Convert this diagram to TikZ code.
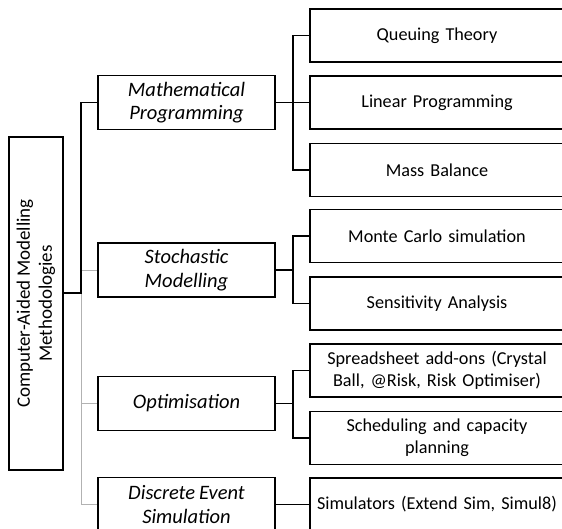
\documentclass[tikz,border=0pt]{standalone}
\usepackage{fontspec}
\setmainfont[WordSpace=0.85]{Carlito}
\begin{document}
\begin{tikzpicture}[x=1pt,y=-1pt,
  box/.style={draw,line width=1.7pt,align=center,inner sep=0pt,
    font=\fontsize{18.2}{22}\selectfont},
  leaf/.style={box,minimum width=254,minimum height=53,text width=248},
  method/.style={box,minimum width=177,minimum height=54,font=\fontsize{20.5}{23.5}\selectfont\itshape},
  conn/.style={line width=1.7pt},
  fine/.style={line width=0.7pt},
  faint/.style={line width=0.7pt,gray!60}]
  \useasboundingbox (0,0) rectangle (562,529);
  \clip (0,0) rectangle (562,529);

  % root
  \node[box,rotate=90,minimum width=333,minimum height=54,
    font=\fontsize{19}{22}\selectfont] (root) at (36,303.5)
    {Computer-Aided Modelling\\Methodologies};

  % methods
  \node[method] (mp) at (186.5,102.5) {Mathematical\\Programming};
  \node[method] (sm) at (186.5,270) {Stochastic\\Modelling};
  \node[method] (op) at (186.5,403.5) {Optimisation};
  \node[method] (de) at (186.5,504.5) {Discrete Event\\Simulation};

  % tools
  \node[leaf] (qt) at (437,35.5) {Queuing Theory};
  \node[leaf] (lp) at (437,102.5) {Linear Programming};
  \node[leaf] (mb) at (437,170) {Mass Balance};
  \node[leaf] (mc) at (437,236) {Monte Carlo simulation};
  \node[leaf] (sa) at (437,303.5) {Sensitivity Analysis};
  \node[leaf] (ss) at (437,370.5) {Spreadsheet add-ons (Crystal\\Ball, @Risk, Risk Optimiser)};
  \node[leaf] (sc) at (437,438) {Scheduling and capacity\\planning};
  \node[leaf] (si) at (437,504.5) {Simulators (Extend Sim, Simul8)};

  % trunk
  \coordinate (trunk) at (81,293);
  \draw[faint] (trunk) |- (sm.west);
  \draw[faint] (trunk) |- (op.west);
  \draw[faint] (trunk) |- (de.west);
  \draw[conn] (root.south |- trunk) -- (trunk) |- (mp.west);

  % brackets
  \draw[conn] (mp.east) -- ++(17,0) coordinate (mpj);
  \draw[conn] (qt.west) -| (mpj) |- (mb.west);
  \draw[fine] (mpj) -- (lp.west);
  \draw[conn] (sm.east) -- ++(17,0) coordinate (smj);
  \draw[conn] (mc.west) -| (smj) |- (sa.west);
  \draw[conn] (op.east) -- ++(17,0) coordinate (opj);
  \draw[conn] (ss.west) -| (opj) |- (sc.west);
  \draw[conn] (de.east) -- (si.west);
\end{tikzpicture}
\end{document}
